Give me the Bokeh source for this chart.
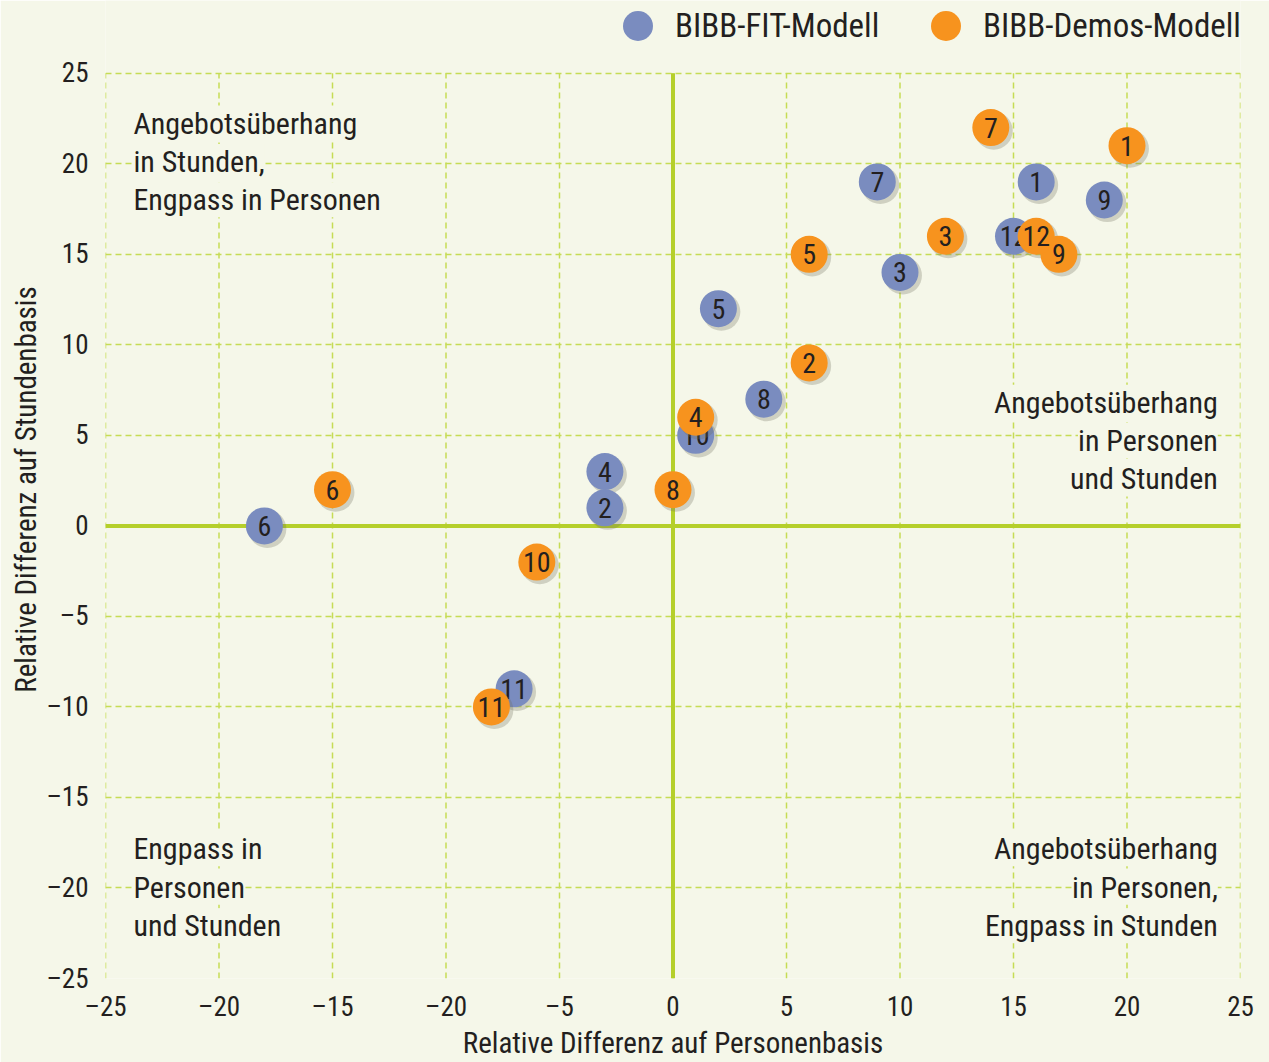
from bokeh.plotting import figure
from bokeh.models import ColumnDataSource, FixedTicker, Label, Legend, LegendItem
from bokeh.core.properties import value
from bokeh.embed import file_html
from bokeh.resources import INLINE

# ---------------- data ----------------
ids = ["1", "2", "3", "4", "5", "6", "7", "8", "9", "10", "11", "12"]
fit_x = [16, -3, 10, -3, 2, -18, 9, 4, 19, 1, -7, 15]
fit_y = [19, 1, 14, 3, 12, 0, 19, 7, 18, 5, -9, 16]
demos_x = [20, 6, 12, 1, 6, -15, 14, 0, 17, -6, -8, 16]
demos_y = [21, 9, 16, 6, 15, 2, 22, 2, 15, -2, -10, 16]

series_names = ["BIBB-FIT-Modell", "BIBB-Demos-Modell"]
ticks = [-25, -20, -15, -10, -5, 0, 5, 10, 15, 20, 25]
x_tick_labels = ["–25", "–20", "–15", "–20", "–5", "0", "5", "10", "15", "20", "25"]
y_tick_labels = ["–25", "–20", "–15", "–10", "–5", "0", "5", "10", "15", "20", "25"]

quadrant_texts = {
    "tl": ["Angebotsüberhang", "in Stunden,", "Engpass in Personen"],
    "r": ["Angebotsüberhang", "in Personen", "und Stunden"],
    "bl": ["Engpass in", "Personen", "und Stunden"],
    "br": ["Angebotsüberhang", "in Personen,", "Engpass in Stunden"],
}

# ---------------- style ----------------
FONT = "Roboto Condensed, Roboto"
BG = "#f5f7e9"
BLUE = "#7a8cbf"
ORANGE = "#f7931e"
GRID = "#c6dc55"
ZERO = "#b5cf2b"
TXT = "#231f20"

lo, hi = ticks[0], ticks[-1]
top_extra = 4.02   # room above the grid for the legend (frame extends to canvas top)

p = figure(width=1269, height=1062, x_range=(lo, hi), y_range=(lo, hi + top_extra),
           output_backend="svg", toolbar_location=None,
           min_border_left=105, min_border_right=29, min_border_top=0, min_border_bottom=81)
p.background_fill_color = BG
p.border_fill_color = BG
p.outline_line_color = None

for ax, labels in ((p.xaxis[0], x_tick_labels), (p.yaxis[0], y_tick_labels)):
    ax.ticker = FixedTicker(ticks=ticks)
    ax.bounds = (lo, hi)
    ax.major_label_overrides = {t: l for t, l in zip(ticks, labels)}
    ax.axis_line_color = None
    ax.major_tick_line_color = None
    ax.minor_tick_line_color = None
    ax.major_tick_out = 0
    ax.major_tick_in = 0
    ax.minor_tick_out = 0
    ax.minor_tick_in = 0
    ax.major_label_text_font = FONT
    ax.major_label_text_font_size = "27px"
    ax.major_label_text_color = TXT
    ax.axis_label_text_font = FONT
    ax.axis_label_text_font_size = "29px"
    ax.axis_label_text_color = TXT
    ax.axis_label_text_font_style = "normal"

p.xaxis.axis_label = "Relative Differenz auf Personenbasis"
p.yaxis.axis_label = "Relative Differenz auf Stundenbasis"
p.xaxis.major_label_standoff = 12
p.xaxis.axis_label_standoff = 0
p.yaxis.major_label_standoff = 17
p.yaxis.axis_label_standoff = 0

# grid: horizontal lines via Grid, vertical lines as bounded segments
p.xgrid.visible = False
p.ygrid[0].ticker = FixedTicker(ticks=ticks)
p.ygrid[0].grid_line_color = GRID
p.ygrid[0].grid_line_width = 1.5
p.ygrid[0].grid_line_dash = "6 4"
p.segment(x0=ticks, y0=[lo] * len(ticks), x1=ticks, y1=[hi] * len(ticks),
          line_color=GRID, line_width=1.5, line_dash="6 4")

# zero axes
p.segment(x0=[lo, 0], y0=[0, lo], x1=[hi, 0], y1=[0, hi], line_color=ZERO, line_width=4)

# quadrant annotations
line_gap = 2.12
def add_block(lines, x, y0, align):
    for i, t in enumerate(lines):
        p.add_layout(Label(x=x, y=y0 - i * line_gap, text=t, text_font=FONT,
                           text_font_size="30px", text_color=TXT, text_align=align,
                           text_baseline="middle", background_fill_color=BG,
                           background_fill_alpha=1.0))

add_block(quadrant_texts["tl"], -23.77, 22.25, "left")
add_block(quadrant_texts["r"], 24.0, 6.83, "right")
add_block(quadrant_texts["bl"], -23.77, -17.84, "left")
add_block(quadrant_texts["br"], 24.0, -17.84, "right")

# points
dx, dy = 0.13, -0.17
renderers = []
for xs, ys, col in ((fit_x, fit_y, BLUE), (demos_x, demos_y, ORANGE)):
    src = ColumnDataSource(dict(x=xs, y=ys, sx=[v + dx for v in xs],
                                sy=[v + dy for v in ys], label=ids))
    p.scatter("sx", "sy", source=src, size=38, fill_color="#6b6b5a",
              fill_alpha=0.28, line_color=None)
    r = p.scatter("x", "y", source=src, size=37, fill_color=col, line_color=None)
    p.text("x", "y", text="label", source=src, text_font=value(FONT),
           text_font_size="28px", text_color=TXT, text_align="center",
           text_baseline="middle")
    renderers.append(r)

legend = Legend(items=[LegendItem(label=n, renderers=[r]) for n, r in zip(series_names, renderers)],
                location=(495, 915), orientation="horizontal",
                glyph_width=75, glyph_height=75, label_height=40, label_standoff=0,
                label_width=233, spacing=0, padding=0, margin=0,
                label_text_font=FONT, label_text_font_size="33px", label_text_color=TXT,
                background_fill_alpha=0, border_line_alpha=0)
p.add_layout(legend)

open("out.html", "w").write(file_html(p, INLINE))
